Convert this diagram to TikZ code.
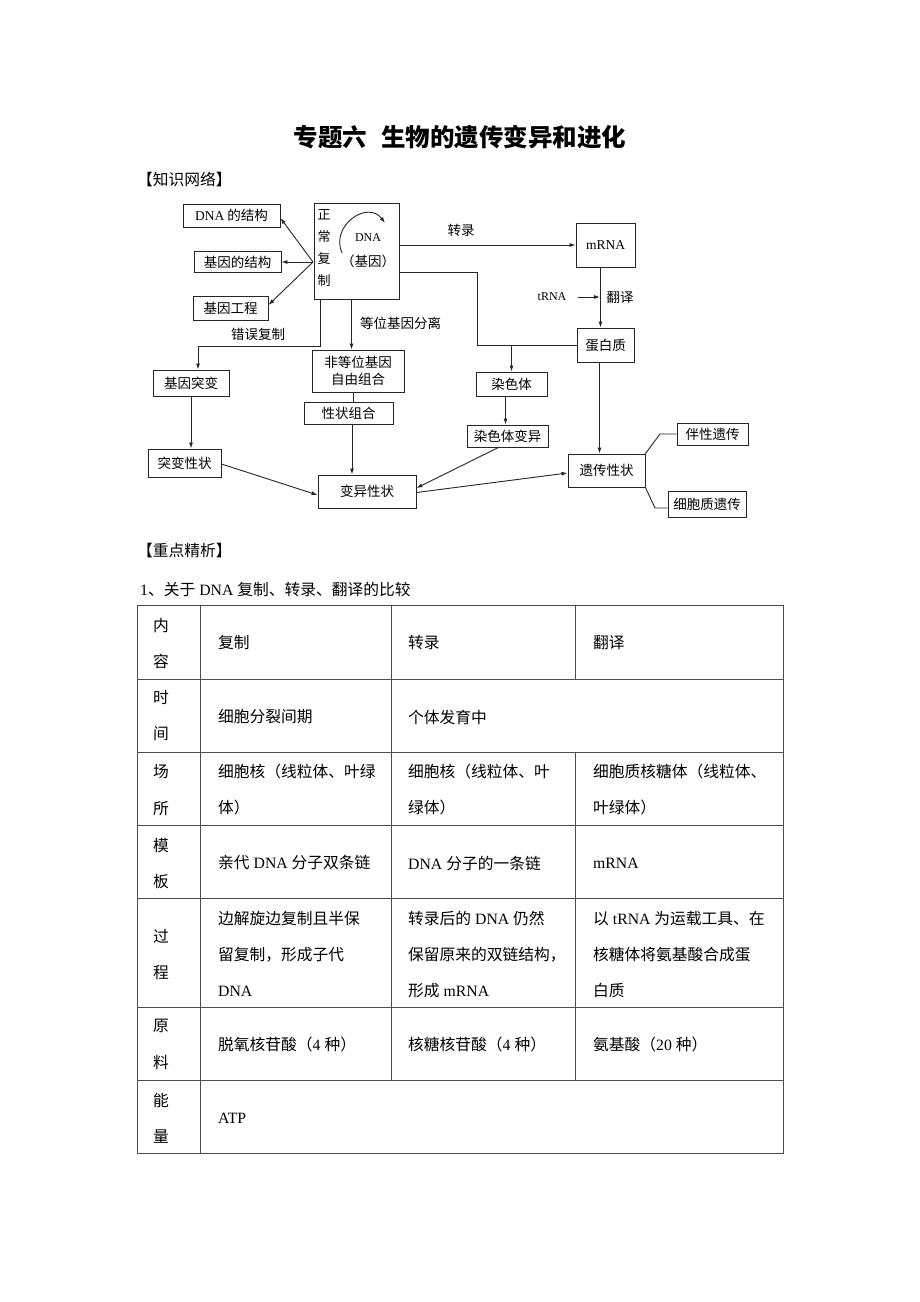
\documentclass[tikz,border=0pt]{standalone}
\usepackage{fontspec}
\setmainfont{Liberation Serif}
\newfontfamily\cjk{Noto Sans CJK SC}
\usetikzlibrary{arrows.meta,calc}
\newcommand\lat[1]{{\rmfamily #1}}
\newcommand\dfont{\cjk\fontsize{13.5}{16.5}\selectfont}
\newcommand\tfont{\cjk\fontsize{15.75}{36}\selectfont}
\newcommand\hfont{\cjk\fontsize{15.75}{36.5}\selectfont}
\begin{document}
\begin{tikzpicture}[x=1pt,y=-1pt,
 box/.style={draw=black!85,line width=0.9pt,inner sep=0pt,font=\dfont,text=black},
 lab/.style={inner sep=0pt,font=\dfont},
 arr/.style={draw=black!85,line width=0.9pt,-{Latex[length=6pt,width=4pt]}},
 ln/.style={draw=black!85,line width=0.9pt},
 tc/.style={inner sep=0pt,font=\tfont,align=left,anchor=west},
 hc/.style={inner sep=0pt,font=\hfont,align=center},
 grid/.style={draw=black!70,line width=1pt}]
\useasboundingbox (0,0) rectangle (920,1302);
\fill[white] (0,0) rectangle (920,1302);

% headings
\node[inner sep=0pt,font=\cjk\bfseries\fontsize{24.5}{28}\selectfont] (title) at (460,137) {专题六\hspace{14pt}生物的遗传变异和进化};
\node[anchor=west,inner sep=0pt,font=\tfont] (kn) at (137,179) {【知识网络】};
\node[anchor=west,inner sep=0pt,font=\tfont] (zd) at (137,551) {【重点精析】};
\node[anchor=west,inner sep=0pt,font=\tfont] (q1) at (140,589) {\lat{1}、关于\lat{ DNA }复制、转录、翻译的比较};

% diagram boxes
\node[box,minimum width=97,minimum height=23] (s1) at (231.5,215.5) {\lat{DNA} 的结构};
\node[box,minimum width=87,minimum height=21] (s2) at (237.5,262) {基因的结构};
\node[box,minimum width=75,minimum height=24] (s3) at (230.5,308) {基因工程};
\node[box,minimum width=85,minimum height=96] (dna) at (356.5,251) {};
\node[lab,align=center,font=\cjk\fontsize{13}{21.7}\selectfont] (zc) at (324,248) {正\\常\\复\\制};
\node[lab,font=\rmfamily\fontsize{12}{14}\selectfont] (dn) at (368,238) {DNA};
\node[lab] (jy) at (368,261) {（基因）};
\node[box,minimum width=59,minimum height=44] (mrna) at (605.5,245) {\lat{mRNA}};
\node[box,minimum width=57,minimum height=34] (prot) at (605.5,345) {蛋白质};
\node[box,minimum width=71,minimum height=24] (chr) at (511.5,384) {染色体};
\node[box,minimum width=81,minimum height=22] (chrv) at (507.5,436) {染色体变异};
\node[box,minimum width=77,minimum height=33] (yc) at (606.5,470.5) {遗传性状};
\node[box,minimum width=71,minimum height=22] (bx) at (712.5,434) {伴性遗传};
\node[box,minimum width=78,minimum height=26] (xb) at (707,504) {细胞质遗传};
\node[box,minimum width=76,minimum height=26] (jt) at (191,383) {基因突变};
\node[box,minimum width=73,minimum height=28] (tb) at (184.5,463) {突变性状};
\node[box,minimum width=92,minimum height=42,align=center] (fd) at (358,371) {非等位基因\\自由组合};
\node[box,minimum width=89,minimum height=22] (xz) at (348.5,413) {性状组合};
\node[box,minimum width=98,minimum height=33] (by) at (367,491.5) {变异性状};

% labels
\node[lab] (l1) at (461,230) {转录};
\node[lab] (l2) at (258,334) {错误复制};
\node[lab,anchor=west] (l3) at (360,323) {等位基因分离};
\node[lab,font=\rmfamily\fontsize{12}{14}\selectfont] (trna) at (552,297) {tRNA};
\node[lab] (l4) at (620,297) {翻译};

% arc arrow inside DNA box
\draw[arr] (342,253) .. controls (330,225) and (368,200) .. (385,223);

% connectors
\coordinate (hub) at (313,262);
\draw[arr] (hub) -- ([yshift=-2.5]s1.east);
\draw[arr] (hub) -- (s2.east);
\draw[arr] (hub) -- ([yshift=3]s3.east);
\draw[arr] (dna.east |- mrna.west) -- (mrna.west);
\coordinate (c1) at (477,272);
\draw[ln] (dna.east |- c1) -- (c1) -- (c1 |- prot.west) -- (prot.west);
\draw[arr] (chr.north |- prot.west) -- (chr.north);
\draw[arr] ([xshift=-6]chr.south) -- ([xshift=-6]chr.south |- chrv.north);
\draw[arr] ([xshift=-9]chrv.south) -- ([yshift=3.5]by.east);
\draw[arr] ([yshift=-1]by.east) -- ([yshift=-2.5]yc.west);
\draw[arr] ([xshift=-5]mrna.south) -- ([xshift=-5]mrna.south |- prot.north);
\coordinate (tr) at (600,297);
\draw[arr] ([xshift=11]trna.east) -- (tr);
\draw[arr] ([xshift=-6]prot.south) -- ([xshift=-6]prot.south |- yc.north);
\coordinate (k1) at (660,434);
\draw[ln] (yc.north east) -- (k1) -- (bx.west);
\coordinate (k2) at (655,508);
\draw[ln] (yc.south east) -- (k2) -- (xb.west |- k2);
\coordinate (e1) at (320,346);
\draw[arr] (dna.south -| e1) -- (e1) -| ([xshift=7]jt.north);
\draw[arr] ([xshift=-5]dna.south) -- ([xshift=-5]dna.south |- fd.north);
\draw[ln] ([xshift=-5]fd.south) -- ([xshift=-5]fd.south |- xz.north);
\draw[arr] ([xshift=3.5]xz.south) -- ([xshift=3.5]xz.south |- by.north);
\draw[arr] (jt.south) -- (jt.south |- tb.north);
\draw[arr] ([yshift=-1]tb.east) -- ([yshift=-3.5]by.west);

% table grid
\draw[grid] (137,605) rectangle (783,1153);
\foreach \yy in {679,752,825,898,1007,1080} \draw[grid] (137,\yy) -- (783,\yy);
\draw[grid] (200,605) -- (200,1153);
\draw[grid] (391,605) -- (391,1080);
\draw[grid] (575,605) -- (575,679);
\draw[grid] (575,752) -- (575,1080);

% table first column
\node[hc] (h1) at (161,643.5) {内\\容};
\node[hc] (h2) at (161,715.5) {时\\间};
\node[hc] (h3) at (161,790) {场\\所};
\node[hc] (h4) at (161,863.5) {模\\板};
\node[hc] (h5) at (161,954.5) {过\\程};
\node[hc] (h6) at (161,1044.5) {原\\料};
\node[hc] (h7) at (161,1118.5) {能\\量};

% table cells
\node[tc] (c11) at (218,643) {复制};
\node[tc] (c12) at (408,643) {转录};
\node[tc] (c13) at (593,643) {翻译};
\node[tc] (c21) at (218,717) {细胞分裂间期};
\node[tc] (c22) at (408,717) {个体发育中};
\node[tc] (c31) at (218,790) {细胞核（线粒体、叶绿\\体）};
\node[tc] (c32) at (408,790) {细胞核（线粒体、叶\\绿体）};
\node[tc] (c33) at (593,790) {细胞质核糖体（线粒体、\\叶绿体）};
\node[tc] (c41) at (218,863) {亲代\lat{ DNA }分子双条链};
\node[tc] (c42) at (408,863) {\lat{DNA }分子的一条链};
\node[tc] (c43) at (593,863) {\lat{mRNA}};
\node[tc] (c51) at (218,954) {边解旋边复制且半保\\留复制，形成子代\\\lat{DNA}};
\node[tc] (c52) at (408,954) {转录后的\lat{ DNA }仍然\\保留原来的双链结构，\\形成\lat{ mRNA}};
\node[tc] (c53) at (593,954) {以\lat{ tRNA }为运载工具、在\\核糖体将氨基酸合成蛋\\白质};
\node[tc] (c61) at (218,1045) {脱氧核苷酸（\lat{4 }种）};
\node[tc] (c62) at (408,1045) {核糖核苷酸（\lat{4 }种）};
\node[tc] (c63) at (593,1045) {氨基酸（\lat{20 }种）};
\node[tc] (c71) at (218,1118) {\lat{ATP}};
\end{tikzpicture}
\end{document}
